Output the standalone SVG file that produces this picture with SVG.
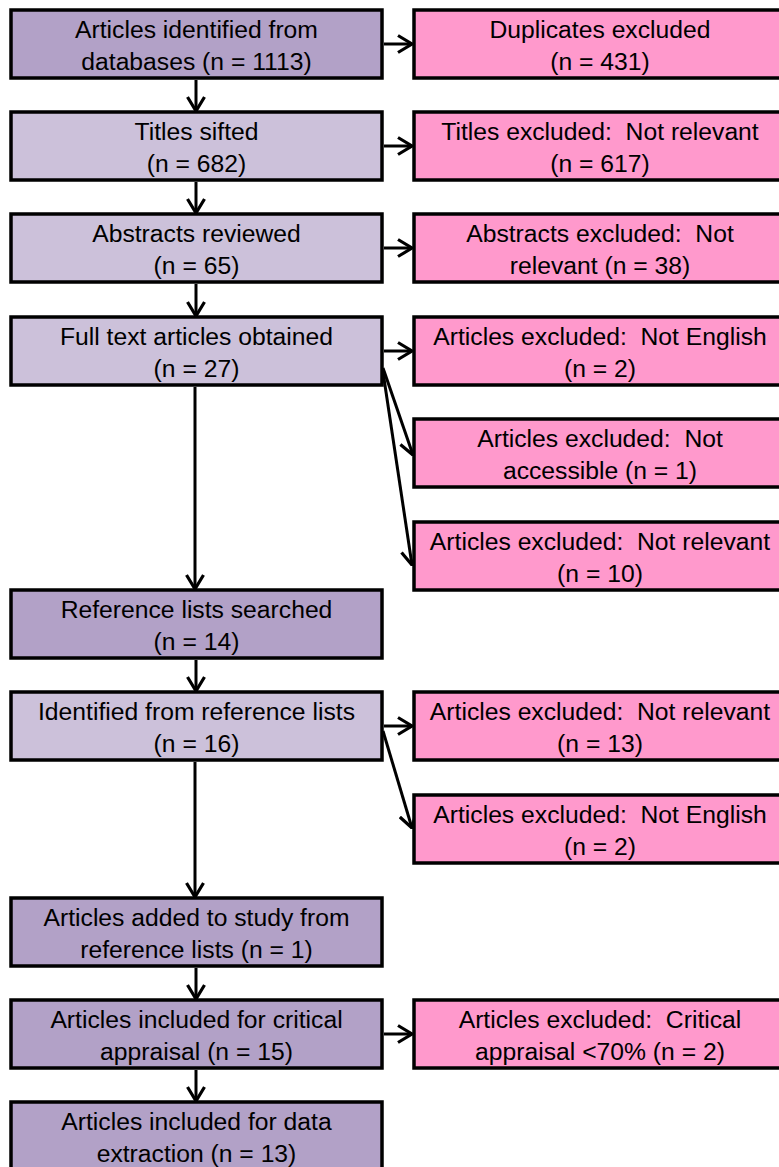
<svg xmlns="http://www.w3.org/2000/svg" width="779" height="1167" viewBox="0 0 779 1167">
<defs>
<style>
.box{stroke:#000;stroke-width:3.5}
.dark{fill:#B2A1C7}
.light{fill:#CCC1DA}
.pink{fill:#FF99CC}
text{font-family:"Liberation Sans",Arial,sans-serif;font-size:24.7px;fill:#000;text-anchor:middle}
.con{stroke:#000;stroke-width:3;fill:none;marker-end:url(#ah)}
</style>
<marker id="ah" viewBox="0 0 16 20" refX="15" refY="10" markerWidth="16" markerHeight="20" markerUnits="userSpaceOnUse" orient="auto">
<path d="M1,1.5 L15,10 L1,18.5" fill="none" stroke="#000" stroke-width="3.2"/>
</marker>
</defs>
<rect width="779" height="1167" fill="#fff"/>
<g id="connectors">
<line class="con" x1="196" y1="80" x2="196" y2="111"/>
<line class="con" x1="196" y1="182" x2="196" y2="213"/>
<line class="con" x1="196" y1="284" x2="196" y2="316"/>
<line class="con" x1="195" y1="387" x2="195" y2="589"/>
<line class="con" x1="196" y1="660" x2="196" y2="691"/>
<line class="con" x1="195" y1="762" x2="195" y2="897"/>
<line class="con" x1="196" y1="968" x2="196" y2="999"/>
<line class="con" x1="196" y1="1070" x2="196" y2="1101"/>
<line class="con" x1="384" y1="44" x2="412" y2="44"/>
<line class="con" x1="384" y1="146" x2="412" y2="146"/>
<line class="con" x1="384" y1="248" x2="412" y2="248"/>
<line class="con" x1="384" y1="351" x2="412" y2="351"/>
<line class="con" x1="384" y1="726" x2="412" y2="726"/>
<line class="con" x1="384" y1="1034" x2="412" y2="1034"/>
<line class="con" x1="383" y1="368" x2="413" y2="455"/>
<line class="con" x1="383" y1="372" x2="412" y2="565"/>
<line class="con" x1="383" y1="731" x2="412" y2="828"/>
</g>
<g id="n1"><rect class="box dark" x="11" y="10" width="371" height="68"/><text x="196.5" y="38">Articles identified from</text><text x="196.5" y="70">databases (n = 1113)</text></g>
<g id="p1"><rect class="box pink" x="414" y="10" width="372" height="68"/><text x="600" y="38">Duplicates excluded</text><text x="600" y="70">(n = 431)</text></g>
<g id="n2"><rect class="box light" x="11" y="112" width="371" height="68"/><text x="196.5" y="140">Titles sifted</text><text x="196.5" y="172">(n = 682)</text></g>
<g id="p2"><rect class="box pink" x="414" y="112" width="372" height="68"/><text x="600" y="140" xml:space="preserve">Titles excluded:  Not relevant</text><text x="600" y="172">(n = 617)</text></g>
<g id="n3"><rect class="box light" x="11" y="214" width="371" height="68"/><text x="196.5" y="242">Abstracts reviewed</text><text x="196.5" y="274">(n = 65)</text></g>
<g id="p3"><rect class="box pink" x="414" y="214" width="372" height="68"/><text x="600" y="242" xml:space="preserve">Abstracts excluded:  Not</text><text x="600" y="274">relevant (n = 38)</text></g>
<g id="n4"><rect class="box light" x="11" y="317" width="371" height="68"/><text x="196.5" y="345">Full text articles obtained</text><text x="196.5" y="377">(n = 27)</text></g>
<g id="p4"><rect class="box pink" x="414" y="317" width="372" height="68"/><text x="600" y="345" xml:space="preserve">Articles excluded:  Not English</text><text x="600" y="377">(n = 2)</text></g>
<g id="p5"><rect class="box pink" x="414" y="419" width="372" height="68"/><text x="600" y="447" xml:space="preserve">Articles excluded:  Not</text><text x="600" y="479">accessible (n = 1)</text></g>
<g id="p6"><rect class="box pink" x="414" y="522" width="372" height="68"/><text x="600" y="550" xml:space="preserve">Articles excluded:  Not relevant</text><text x="600" y="582">(n = 10)</text></g>
<g id="n5"><rect class="box dark" x="11" y="590" width="371" height="68"/><text x="196.5" y="618">Reference lists searched</text><text x="196.5" y="650">(n = 14)</text></g>
<g id="n6"><rect class="box light" x="11" y="692" width="371" height="68"/><text x="196.5" y="720">Identified from reference lists</text><text x="196.5" y="752">(n = 16)</text></g>
<g id="p7"><rect class="box pink" x="414" y="692" width="372" height="68"/><text x="600" y="720" xml:space="preserve">Articles excluded:  Not relevant</text><text x="600" y="752">(n = 13)</text></g>
<g id="p8"><rect class="box pink" x="414" y="795" width="372" height="68"/><text x="600" y="823" xml:space="preserve">Articles excluded:  Not English</text><text x="600" y="855">(n = 2)</text></g>
<g id="n7"><rect class="box dark" x="11" y="898" width="371" height="68"/><text x="196.5" y="926">Articles added to study from</text><text x="196.5" y="958">reference lists (n = 1)</text></g>
<g id="n8"><rect class="box dark" x="11" y="1000" width="371" height="68"/><text x="196.5" y="1028">Articles included for critical</text><text x="196.5" y="1060">appraisal (n = 15)</text></g>
<g id="p9"><rect class="box pink" x="414" y="1000" width="372" height="68"/><text x="600" y="1028" xml:space="preserve">Articles excluded:  Critical</text><text x="600" y="1060">appraisal &lt;70% (n = 2)</text></g>
<g id="n9"><rect class="box dark" x="11" y="1102" width="371" height="68"/><text x="196.5" y="1130">Articles included for data</text><text x="196.5" y="1162">extraction (n = 13)</text></g>
</svg>
